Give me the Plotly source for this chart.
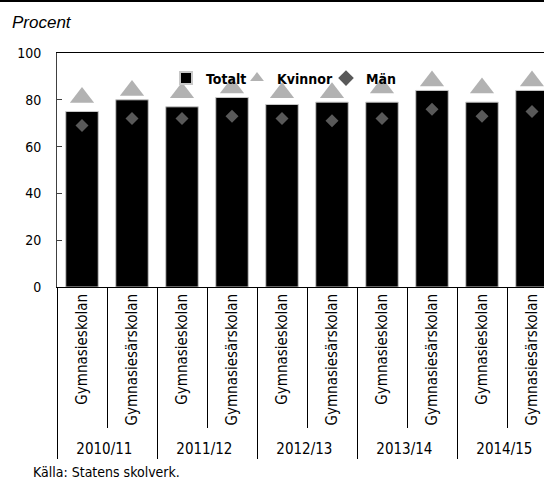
import plotly.graph_objects as go

years = ["2010/11", "2010/11", "2011/12", "2011/12", "2012/13", "2012/13",
         "2013/14", "2013/14", "2014/15", "2014/15"]
schools = ["Gymnasieskolan", "Gymnasiesärskolan"] * 5
totalt = [75, 80, 77, 81, 78, 79, 79, 84, 79, 84]
kvinnor = [81, 84, 83, 85, 83, 83, 85, 88, 85, 88]
man = [69, 72, 72, 73, 72, 71, 72, 76, 73, 75]

NARROW = "DejaVu Sans Condensed, Liberation Sans Narrow, sans-serif"
FS = 14

# plot area geometry (px)
L, T, W, H = 57, 53, 487, 234
XRANGE = [-0.5, 9.24]


def px_x(p):
    return (p - L) / W


def px_y(p):
    return (T + H - p) / H


fig = go.Figure()
fig.add_trace(go.Bar(x=[years, schools], y=totalt, name="Totalt", legend="legend",
                     marker=dict(color="black", line=dict(color="#c8c8c8", width=1))))
fig.add_trace(go.Scatter(x=[years, schools], y=kvinnor, name="Kvinnor", mode="markers",
                         legend="legend2",
                         marker=dict(symbol="triangle-up", size=21, color="#b2b2b2")))
fig.add_trace(go.Scatter(x=[years, schools], y=man, name="Män", mode="markers",
                         legend="legend3",
                         marker=dict(symbol="diamond", size=10, color="#595959")))

legfont = dict(family=NARROW, size=FS, color="black", weight="bold")
common_leg = dict(orientation="h", xanchor="left", yanchor="middle", y=px_y(78.5),
                  bgcolor="rgba(0,0,0,0)", itemsizing="constant", font=legfont)

fig.update_layout(
    width=544, height=481,
    margin=dict(l=L, r=544 - L - W, t=T, b=481 - T - H, autoexpand=False),
    paper_bgcolor="white", plot_bgcolor="white",
    bargap=0.35,
    font=dict(family=NARROW, size=FS, color="black"),
    showlegend=True,
    legend=dict(x=px_x(166), **common_leg),
    legend2=dict(x=px_x(237), **common_leg),
    legend3=dict(x=px_x(326), **common_leg),
    xaxis=dict(type="multicategory", range=XRANGE, showline=True, linecolor="black",
               linewidth=1, mirror=True, ticks="outside", ticklen=140,
               tickcolor="black", tickwidth=1, tickangle=-90,
               showdividers=True, dividercolor="black", dividerwidth=1, showgrid=False,
               tickfont=dict(family=NARROW, size=15)),
    yaxis=dict(range=[0, 100], dtick=20, showline=True, linecolor="#404040", linewidth=1,
               ticks="inside", ticklen=5, tickcolor="#404040", showgrid=False, zeroline=False,
               ticklabelstandoff=12, tickfont=dict(family=NARROW, size=FS)),
    annotations=[
        dict(text="Procent", xref="paper", yref="paper", x=px_x(10), y=px_y(22),
             xanchor="left", yanchor="middle", showarrow=False,
             font=dict(family="Liberation Sans, Arial, sans-serif", size=17, style="italic")),
        dict(text="Källa: Statens skolverk.", xref="paper", yref="paper", x=px_x(31),
             y=px_y(472), xanchor="left", yanchor="middle", showarrow=False,
             font=dict(family=NARROW, size=FS)),
    ],
    shapes=[dict(type="line", xref="paper", yref="paper", x0=px_x(0), x1=1.0,
                 y0=px_y(1), y1=px_y(1), line=dict(color="black", width=2))],
)

fig.write_html("out.html", config={"displayModeBar": False},
               post_script="document.body.style.margin='0';")
